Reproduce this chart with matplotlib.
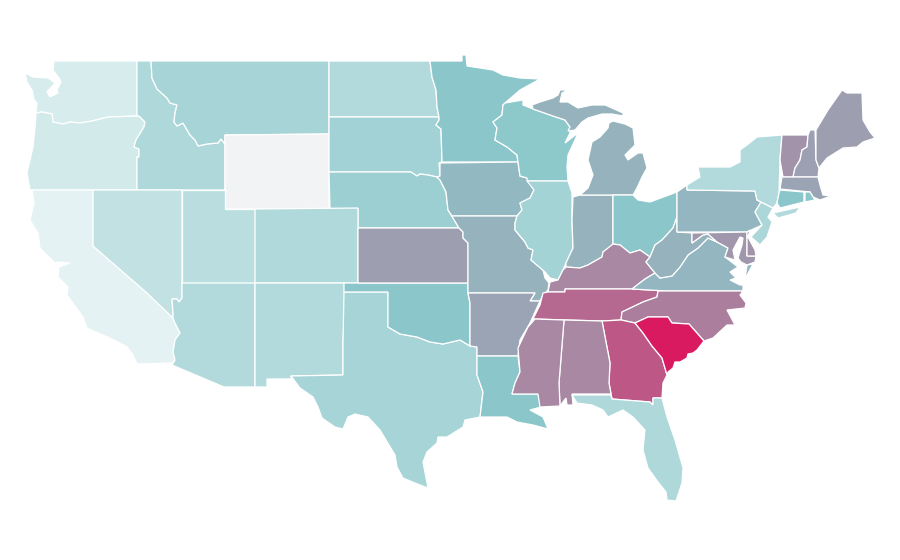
import matplotlib
matplotlib.use('Agg')
import matplotlib.pyplot as plt
from matplotlib.colors import LinearSegmentedColormap, Normalize

# state values, nan = no data
state_values = {
    'WY': float('nan'), 'CA': 4, 'WA': 11, 'OR': 13, 'NV': 22, 'UT': 26, 'ND': 30, 'NY': 30,
    'ID': 32, 'CO': 31, 'NM': 30, 'AZ': 30, 'FL': 32, 'NJ': 33, 'TX': 36, 'MT': 36, 'IL': 37,
    'SD': 38, 'NE': 42, 'MN': 50, 'WI': 49, 'OH': 50, 'LA': 50, 'OK': 50, 'CT': 50, 'RI': 50,
    'IA': 54, 'MI': 56, 'IN': 56, 'MO': 56, 'PA': 55, 'VA': 55, 'WV': 56, 'AR': 60, 'MA': 60,
    'NH': 61, 'KS': 62, 'ME': 62, 'MD': 64, 'DE': 65, 'VT': 65, 'KY': 68, 'MS': 68, 'AL': 68,
    'NC': 71, 'TN': 77, 'GA': 82, 'SC': 100,
}

outlines = {
    'WA': [[(54, 61), (137, 61), (137, 116), (108, 117), (92, 121), (80, 123), (70, 122), (63, 124), (53, 122),
            (52, 114), (42, 112), (36, 113), (37, 103), (34, 100), (32, 90), (27, 82), (25, 73), (33, 77), (48, 78),
            (55, 83), (47, 92), (50, 97), (58, 93), (57, 90), (61, 82), (59, 78), (53, 70)]],
    'OR': [[(36, 113), (42, 112), (52, 114), (53, 122), (63, 124), (70, 122), (80, 123), (92, 121), (108, 117),
            (139, 116), (145, 122), (144, 127), (136, 140), (134, 147), (139, 149), (139, 157), (137, 157), (137, 190),
            (30, 190), (27, 173), (33, 147), (35, 127)]],
    'ID': [[(137, 61), (151, 61), (152, 78), (157, 89), (167, 98), (170, 103), (177, 105), (175, 113), (174, 122),
            (177, 126), (183, 123), (190, 135), (195, 140), (198, 146), (207, 144), (218, 143), (221, 139), (225, 144),
            (225, 190), (137, 190), (137, 157), (139, 157), (139, 149), (134, 147), (136, 140), (144, 127), (145, 122),
            (139, 116), (137, 116)]],
    'MT': [[(151, 61), (329, 61), (329, 134), (225, 135), (225, 144), (221, 139), (218, 143), (207, 144), (198, 146),
            (195, 140), (190, 135), (183, 123), (177, 126), (174, 122), (175, 113), (177, 105), (170, 103), (167, 98),
            (157, 89), (152, 78)]],
    'WY': [[(225, 135), (329, 134), (329, 209), (225, 209)]],
    'ND': [[(329, 61), (430, 61), (432, 77), (436, 90), (437, 107), (439, 117), (329, 117)]],
    'SD': [[(329, 117), (439, 117), (439, 120), (436, 125), (441, 129), (442, 162), (439, 163), (440, 176), (437, 177),
            (428, 175), (420, 174), (417, 176), (411, 172), (329, 172)]],
    'NE': [[(329, 172), (411, 172), (417, 176), (420, 174), (428, 175), (437, 177), (440, 180), (446, 192), (448, 210),
            (453, 218), (459, 228), (358, 228), (358, 209), (330, 209)]],
    'CA': [[(32, 190), (93, 190), (93, 246), (147, 293), (173, 318), (175, 323), (180, 333), (175, 340), (173, 352),
            (175, 360), (172, 363), (137, 364), (133, 355), (127, 347), (118, 342), (103, 335), (87, 328), (83, 317),
            (67, 295), (68, 287), (58, 277), (59, 267), (70, 263), (57, 262), (55, 263), (40, 248), (38, 233), (30, 220),
            (34, 203)]],
    'NV': [[(93, 190), (182, 190), (182, 298), (179, 302), (177, 299), (172, 299), (173, 313), (173, 318), (147, 293),
            (93, 246)]],
    'UT': [[(182, 190), (225, 190), (225, 209), (255, 209), (255, 283), (182, 283)]],
    'CO': [[(255, 209), (358, 208), (358, 283), (255, 283)]],
    'AZ': [[(182, 283), (255, 283), (255, 387), (224, 387), (172, 365), (175, 360), (173, 352), (175, 340), (180, 333),
            (175, 323), (173, 318), (173, 313), (172, 299), (177, 299), (179, 302), (182, 298)]],
    'NM': [[(255, 283), (345, 283), (345, 292), (343, 343), (343, 375), (291, 376), (291, 379), (267, 379), (267, 387),
            (255, 387)]],
    'TX': [[(344, 292), (388, 292), (388, 327), (400, 334), (417, 337), (430, 342), (443, 344), (460, 340), (470, 346),
            (477, 347), (477, 375), (483, 392), (480, 417), (465, 420), (463, 427), (447, 437), (438, 437), (437, 443),
            (427, 452), (423, 462), (428, 488), (415, 483), (403, 478), (397, 467), (395, 455), (380, 430), (368, 417),
            (355, 414), (348, 417), (343, 429), (335, 427), (322, 418), (318, 407), (313, 397), (300, 388), (291, 376),
            (343, 375), (343, 343)]],
    'OK': [[(344, 283), (468, 283), (468, 293), (470, 303), (470, 346), (460, 340), (443, 344), (430, 342), (417, 337),
            (400, 334), (388, 327), (388, 292), (344, 292)]],
    'KS': [[(358, 228), (459, 228), (463, 232), (463, 238), (468, 243), (468, 283), (358, 283)]],
    'MN': [[(430, 61), (462, 61), (462, 55), (466, 55), (467, 66), (480, 68), (493, 70), (503, 75), (520, 78), (540, 79),
            (520, 90), (505, 103), (503, 105), (502, 115), (493, 122), (497, 128), (495, 140), (507, 147), (517, 155),
            (518, 162), (442, 162), (441, 129), (436, 125), (439, 120), (439, 117), (437, 107), (436, 90), (432, 77)]],
    'IA': [[(440, 163), (518, 162), (520, 176), (527, 178), (534, 190), (530, 198), (520, 203), (522, 210), (517, 216),
            (513, 216), (452, 216), (448, 210), (446, 192), (440, 180), (437, 177), (440, 176)]],
    'MO': [[(452, 216), (513, 216), (517, 216), (515, 223), (515, 230), (525, 242), (528, 248), (533, 250), (531, 260),
            (543, 270), (545, 278), (549, 283), (548, 290), (542, 297), (540, 301), (530, 301), (535, 293), (468, 293),
            (468, 243), (463, 238), (463, 232), (459, 228), (453, 218)]],
    'AR': [[(468, 293), (535, 293), (530, 301), (540, 301), (530, 323), (520, 340), (518, 356), (477, 356), (477, 347),
            (470, 346), (470, 303)]],
    'LA': [[(477, 356), (518, 356), (520, 372), (515, 383), (512, 394), (538, 394), (541, 407), (530, 410), (543, 417),
            (548, 429), (533, 425), (517, 422), (507, 417), (487, 417), (480, 417), (483, 392), (477, 375)]],
    'WI': [[(505, 103), (523, 100), (523, 105), (533, 109), (553, 116), (565, 120), (570, 127), (570, 133), (565, 143),
            (578, 133), (575, 140), (568, 155), (567, 167), (568, 181), (527, 181), (527, 178), (520, 176), (518, 162),
            (517, 155), (507, 147), (495, 140), (497, 128), (493, 122), (502, 115), (503, 105)]],
    'IL': [[(527, 181), (568, 181), (572, 193), (572, 220), (573, 248), (566, 263), (563, 270), (558, 280), (550, 278),
            (545, 272), (531, 260), (533, 250), (528, 248), (525, 242), (515, 230), (515, 223), (517, 216), (522, 210),
            (520, 203), (530, 198), (534, 190)]],
    'IN': [[(573, 197), (580, 195), (613, 195), (613, 245), (603, 252), (602, 257), (588, 265), (580, 268), (566, 267),
            (566, 263), (573, 248), (572, 220)]],
    'MI': [[(609, 123), (613, 121), (625, 124), (633, 128), (635, 145), (625, 155), (628, 160), (638, 153), (643, 153),
            (647, 168), (642, 177), (637, 188), (633, 195), (613, 195), (580, 195), (588, 188),
            (593, 175), (588, 160), (592, 142), (600, 137), (608, 128)],
           [(532, 105), (540, 102), (553, 98), (558, 95), (560, 90), (568, 90), (562, 93), (560, 102), (568, 102),
            (578, 108), (592, 105), (605, 105), (612, 108), (623, 113), (623, 116), (612, 114), (602, 114), (588, 118),
            (582, 122), (575, 130), (568, 131), (570, 127), (565, 120), (553, 116), (533, 109)]],
    'OH': [[(613, 195), (633, 195), (638, 200), (650, 202), (677, 192), (677, 217), (673, 228), (662, 240), (655, 245),
            (650, 257), (640, 250), (630, 253), (620, 245), (613, 244)]],
    'KY': [[(613, 244), (620, 245), (630, 253), (640, 250), (650, 257), (646, 262), (655, 273), (645, 279), (632, 289),
            (565, 289), (565, 292), (548, 292), (550, 282), (558, 280), (563, 270), (566, 267), (580, 268), (588, 265),
            (602, 257), (603, 252)]],
    'TN': [[(565, 289), (632, 289), (667, 291), (658, 291), (657, 297), (643, 302), (622, 312), (621, 320), (602, 321),
            (533, 319), (540, 305), (543, 293), (548, 292), (565, 292)]],
    'VA': [[(632, 289), (645, 279), (655, 273), (660, 278), (672, 276), (680, 267), (688, 255), (698, 248), (708, 238),
            (717, 242), (728, 248), (725, 257), (738, 267), (730, 272), (736, 278), (730, 280), (740, 285), (743, 285),
            (743, 291), (667, 291)],
           [(747, 265), (753, 264), (745, 279)]],
    'WV': [[(650, 257), (655, 245), (662, 240), (673, 228), (677, 217), (677, 232), (692, 233), (692, 243), (703, 235),
            (708, 234), (717, 242), (708, 238), (698, 248), (688, 255), (680, 267), (672, 276), (660, 278), (655, 273),
            (646, 262)]],
    'PA': [[(677, 192), (687, 185), (687, 190), (755, 191), (757, 200), (761, 202), (755, 212), (762, 225), (747, 232),
            (677, 232)]],
    'MD': [[(692, 233), (747, 232), (747, 256), (756, 256), (755, 262), (747, 265), (741, 262), (738, 258), (742, 245),
            (743, 238), (740, 237), (733, 250), (735, 260), (725, 257), (728, 248), (717, 242), (708, 234), (703, 235),
            (692, 243)]],
    'DE': [[(747, 232), (750, 230), (748, 237), (755, 250), (756, 256), (747, 256)]],
    'NJ': [[(761, 202), (773, 208), (768, 217), (772, 222), (767, 237), (760, 245), (751, 237), (762, 225), (755, 212)]],
    'NY': [[(782, 135), (757, 137), (747, 145), (740, 150), (740, 162), (730, 167), (698, 167), (700, 177), (687, 185),
            (687, 190), (755, 191), (757, 200), (761, 202), (773, 208), (777, 203), (779, 193), (780, 160)],
           [(773, 213), (800, 207), (796, 213), (778, 218)]],
    'VT': [[(782, 135), (808, 135), (807, 147), (802, 150), (800, 160), (795, 168), (793, 177), (783, 177), (780, 160)]],
    'NH': [[(808, 135), (810, 130), (815, 130), (816, 160), (819, 168), (818, 177), (793, 177), (795, 168), (800, 160),
            (802, 150), (807, 147)]],
    'ME': [[(816, 130), (828, 110), (842, 90), (847, 93), (862, 93), (863, 120), (870, 132), (875, 138), (863, 142),
            (857, 147), (843, 148), (827, 158), (819, 168), (816, 160)]],
    'MA': [[(782, 177), (818, 177), (820, 185), (823, 195), (831, 196), (820, 200), (813, 197), (810, 192), (780, 189)]],
    'CT': [[(780, 190), (804, 192), (804, 202), (780, 208), (777, 203), (779, 193)]],
    'RI': [[(805, 192), (810, 192), (815, 200), (805, 202)]],
    'NC': [[(658, 291), (667, 291), (743, 291), (740, 295), (746, 303), (745, 308), (727, 310), (735, 325), (727, 325),
            (713, 338), (704, 341), (689, 324), (672, 323), (668, 317), (648, 317), (635, 323), (621, 320), (622, 312),
            (643, 302), (657, 297)]],
    'GA': [[(602, 321), (621, 320), (635, 323), (643, 333), (652, 346), (662, 358), (667, 375), (663, 383), (662, 398),
            (653, 398), (653, 405), (650, 402), (612, 399), (609, 383), (610, 363)]],
    'SC': [[(635, 323), (648, 317), (668, 317), (672, 323), (689, 324), (704, 341), (697, 350), (693, 353), (688, 354),
            (687, 358), (680, 362), (675, 362), (673, 368), (668, 372), (667, 375), (662, 358), (652, 346), (643, 333)]],
    'AL': [[(564, 320), (602, 321), (610, 363), (609, 383), (611, 394), (572, 394), (573, 405), (567, 405), (566, 398),
            (560, 406), (559, 383)]],
    'MS': [[(535, 319), (564, 320), (559, 383), (560, 406), (540, 407), (538, 394), (512, 394), (515, 383), (520, 372),
            (518, 348), (528, 327)]],
    'FL': [[(572, 395), (611, 395), (612, 399), (650, 402), (653, 405), (653, 398), (662, 398), (667, 417), (675, 440),
            (683, 468), (682, 483), (676, 501), (667, 500), (666, 492), (658, 482), (648, 468), (643, 450), (645, 430),
            (633, 417), (623, 410), (608, 417), (603, 410), (592, 405), (577, 403)]],
}

cmap = LinearSegmentedColormap.from_list('map', ['#ecf6f7', '#8bc7ca', '#da1a60'])
cmap.set_bad('#f2f3f5')
norm = Normalize(0, 100)

fig = plt.figure(figsize=(9, 5.6), dpi=100)
ax = fig.add_axes([0, 0, 1, 1])
for state, parts in outlines.items():
    for part in parts:
        xs = [p[0] for p in part]
        ys = [p[1] for p in part]
        ax.fill(xs, ys, facecolor=cmap(norm(state_values[state])), edgecolor='white', linewidth=0.9)
ax.set_xlim(0, 900)
ax.set_ylim(560, 0)
ax.axis('off')
fig.savefig('out.png', dpi=100)
